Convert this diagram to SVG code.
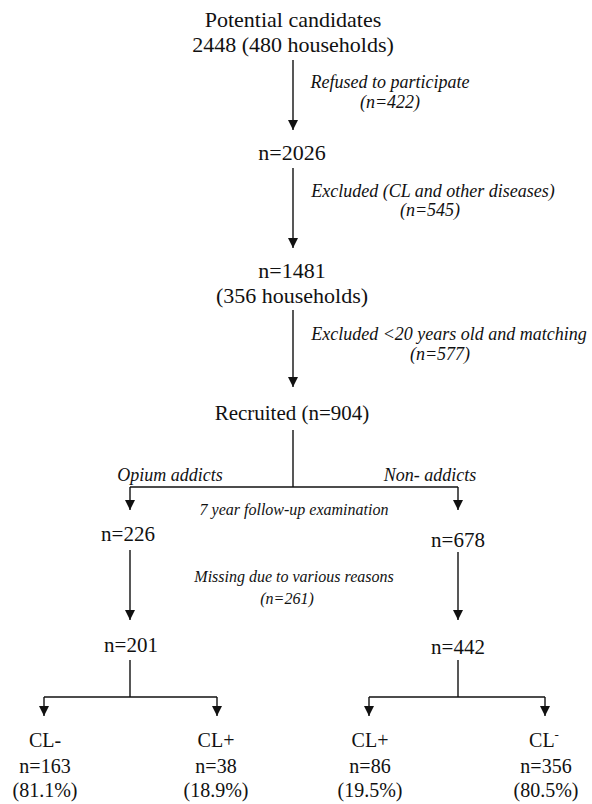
<svg xmlns="http://www.w3.org/2000/svg" width="592" height="804" viewBox="0 0 592 804">
<style>
text{font-family:'Liberation Serif','Times New Roman','DejaVu Serif',serif;fill:#111;text-anchor:middle}
.n{font-size:22px}
.m{font-size:21px}
.b{font-size:20px}
.l{font-style:italic;font-size:18px}
.s{font-size:16px}
.c line,.c path{stroke:#111;stroke-width:1.4;fill:none}
</style>
<defs>
<marker id="ah" viewBox="0 0 10 10" refX="10" refY="5" markerWidth="10" markerHeight="10" markerUnits="userSpaceOnUse" orient="auto">
<path d="M0,0 L10,5 L0,10 z" fill="#111"/>
</marker>
</defs>
<rect width="592" height="804" fill="#fff"/>
<g class="c" id="connectors">
<line x1="293" y1="60" x2="293" y2="130" marker-end="url(#ah)"/>
<line x1="293" y1="168" x2="293" y2="248" marker-end="url(#ah)"/>
<line x1="293" y1="310" x2="293" y2="387" marker-end="url(#ah)"/>
<line x1="293" y1="430" x2="293" y2="487"/>
<path d="M130,487 H458"/>
<line x1="130" y1="487" x2="130" y2="510" marker-end="url(#ah)"/>
<line x1="458" y1="487" x2="458" y2="510" marker-end="url(#ah)"/>
<line x1="130" y1="550" x2="130" y2="620" marker-end="url(#ah)"/>
<line x1="458" y1="552" x2="458" y2="620" marker-end="url(#ah)"/>
<line x1="130" y1="660" x2="130" y2="697"/>
<path d="M44,697 H217"/>
<line x1="44" y1="697" x2="44" y2="716" marker-end="url(#ah)"/>
<line x1="217" y1="697" x2="217" y2="716" marker-end="url(#ah)"/>
<line x1="458" y1="660" x2="458" y2="697"/>
<path d="M369,697 H545"/>
<line x1="369" y1="697" x2="369" y2="716" marker-end="url(#ah)"/>
<line x1="545" y1="697" x2="545" y2="716" marker-end="url(#ah)"/>
</g>
<g id="candidates"><text class="n" x="293" y="27">Potential candidates</text><text class="n" x="293" y="52">2448 (480 households)</text></g>
<g id="refused"><text class="l" x="390" y="88">Refused to participate</text><text class="l" x="390" y="108">(n=422)</text></g>
<g id="n2026"><text class="n" x="292" y="160">n=2026</text></g>
<g id="excluded1"><text class="l" x="433" y="197">Excluded (CL and other diseases)</text><text class="l" x="430" y="216">(n=545)</text></g>
<g id="n1481"><text class="n" x="292" y="278">n=1481</text><text class="n" x="292" y="303">(356 households)</text></g>
<g id="excluded2"><text class="l" x="449" y="340">Excluded &lt;20 years old and matching</text><text class="l" x="440" y="360">(n=577)</text></g>
<g id="recruited"><text class="m" x="292" y="420">Recruited (n=904)</text></g>
<g id="opium"><text class="l" x="170" y="481">Opium addicts</text></g>
<g id="nonaddicts"><text class="l" x="430" y="481">Non- addicts</text></g>
<g id="followup"><text class="l s" x="294" y="515">7 year follow-up examination</text></g>
<g id="n226"><text class="m" x="128" y="541">n=226</text></g>
<g id="n678"><text class="m" x="458" y="547">n=678</text></g>
<g id="missing"><text class="l s" x="294" y="582">Missing due to various reasons</text><text class="l s" x="287" y="604">(n=261)</text></g>
<g id="n201"><text class="m" x="131" y="652">n=201</text></g>
<g id="n442"><text class="m" x="458" y="654">n=442</text></g>
<g id="op-clneg"><text class="b" x="45" y="747">CL-</text><text class="b" x="45" y="773">n=163</text><text class="b" x="45" y="797">(81.1%)</text></g>
<g id="op-clpos"><text class="b" x="216" y="747">CL+</text><text class="b" x="216" y="773">n=38</text><text class="b" x="216" y="797">(18.9%)</text></g>
<g id="na-clpos"><text class="b" x="370" y="747">CL+</text><text class="b" x="370" y="773">n=86</text><text class="b" x="370" y="797">(19.5%)</text></g>
<g id="na-clneg"><text class="b" x="544" y="747">CL<tspan dy="-8" font-size="13">-</tspan></text><text class="b" x="546" y="773">n=356</text><text class="b" x="546" y="797">(80.5%)</text></g>
</svg>
